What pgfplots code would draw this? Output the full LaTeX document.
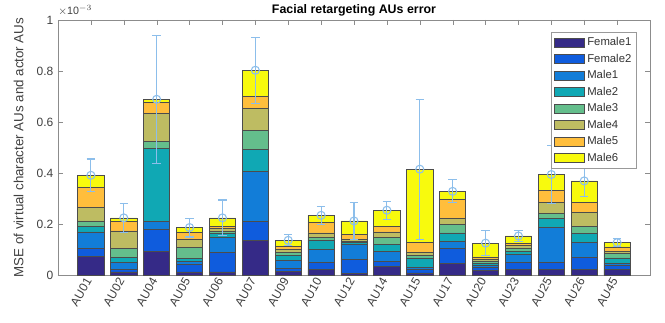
\documentclass[border=0pt]{standalone}
\usepackage{pgfplots}
\usepackage{pgfplotstable}
\pgfplotsset{compat=1.18}
\usepackage{fontspec}
\setmainfont{Liberation Sans}
\definecolor{cF1}{RGB}{53,42,135}
\definecolor{cF2}{RGB}{15,92,221}
\definecolor{cM1}{RGB}{18,125,216}
\definecolor{cM2}{RGB}{16,168,180}
\definecolor{cM3}{RGB}{100,190,140}
\definecolor{cM4}{RGB}{190,188,98}
\definecolor{cM5}{RGB}{255,190,60}
\definecolor{cM6}{RGB}{248,250,13}
\definecolor{errc}{RGB}{140,190,235}
\pgfplotstableread{
x  f1    f2    m1    m2    m3    m4    m5    m6
1  0.073 0.031 0.065 0.022 0.021 0.052 0.080 0.047
2  0.012 0.009 0.028 0.020 0.035 0.069 0.038 0.013
3  0.093 0.086 0.032 0.285 0.028 0.109 0.043 0.013
4  0.012 0.029 0.013 0.010 0.043 0.033 0.026 0.020
5  0.012 0.076 0.059 0.015 0.009 0.011 0.009 0.033
6  0.136 0.075 0.196 0.086 0.073 0.087 0.048 0.102
7  0.015 0.012 0.031 0.019 0.013 0.010 0.013 0.023
8  0.021 0.028 0.052 0.035 0.013 0.016 0.040 0.029
9  0.005 0.057 0.058 0.007 0.006 0.007 0.018 0.054
10 0.034 0.020 0.039 0.026 0.028 0.022 0.023 0.062
11 0.008 0.013 0.010 0.036 0.010 0.011 0.039 0.288
12 0.047 0.057 0.028 0.033 0.033 0.023 0.075 0.032
13 0.018 0.011 0.010 0.008 0.008 0.008 0.008 0.054
14 0.022 0.027 0.031 0.014 0.012 0.010 0.009 0.028
15 0.022 0.027 0.137 0.035 0.020 0.045 0.046 0.062
16 0.022 0.046 0.061 0.033 0.029 0.054 0.039 0.085
17 0.022 0.016 0.009 0.020 0.017 0.009 0.017 0.017
}\bardata
\pgfplotstableread{
x  m     e
1  0.391 0.064
2  0.224 0.056
3  0.689 0.250
4  0.186 0.037
5  0.224 0.070
6  0.803 0.130
7  0.136 0.021
8  0.234 0.036
9  0.212 0.072
10 0.254 0.035
11 0.415 0.275
12 0.328 0.045
13 0.125 0.050
14 0.153 0.020
15 0.394 0.115
16 0.369 0.060
17 0.127 0.015
}\errdata
\begin{document}
\begin{tikzpicture}
\useasboundingbox (0,0) rectangle (498.75pt,241.5pt);
\pgfplotsset{
  myaxis/.style={at={(43.5pt,35.25pt)}, anchor=south west, scale only axis,
    width=444pt, height=191.25pt, xmin=0, xmax=18, ymin=0, ymax=1},
  barst/.style={fill=#1, draw=black!70, line width=0.5pt},
}
\begin{axis}[myaxis, name=main, ybar stacked, bar width=0.8,
  axis line style={black!45}, tick style={black!45},
  tick align=inside, major tick length=3.75pt,
  xtick={1,...,17},
  xticklabels={AU01,AU02,AU04,AU05,AU06,AU07,AU09,AU10,AU12,AU14,AU15,AU17,AU20,AU23,AU25,AU26,AU45},
  x tick label style={rotate=60, anchor=east, font=\fontsize{9}{10}\selectfont, text=black!75},
  ytick={0,0.2,0.4,0.6,0.8,1},
  yticklabels={0,0.2,0.4,0.6,0.8,1},
  y tick label style={font=\fontsize{9}{10}\selectfont, text=black!75},
  ylabel={MSE of virtual character AUs and actor AUs},
  ylabel style={font=\fontsize{10}{11}\selectfont, text=black!75},
  ylabel shift=3pt,
  title={Facial retargeting AUs error},
  title style={font=\bfseries\fontsize{9.3}{11}\selectfont, yshift=-7pt},
]
\addplot[barst=cF1] table[x=x,y=f1]{\bardata};
\addplot[barst=cF2] table[x=x,y=f2]{\bardata};
\addplot[barst=cM1] table[x=x,y=m1]{\bardata};
\addplot[barst=cM2] table[x=x,y=m2]{\bardata};
\addplot[barst=cM3] table[x=x,y=m3]{\bardata};
\addplot[barst=cM4] table[x=x,y=m4]{\bardata};
\addplot[barst=cM5] table[x=x,y=m5]{\bardata};
\addplot[barst=cM6] table[x=x,y=m6]{\bardata};
\end{axis}
\node[anchor=south west, inner sep=0pt, text=black!75, font=\fontsize{8}{9}\selectfont] at ([yshift=3pt]main.north west) {$\times$10$^{-3}$};
\begin{axis}[myaxis, hide axis,
  legend image code/.code={\draw[#1] (0pt,-3.4pt) rectangle (22.5pt,3.4pt);},
  legend style={at={(0.978,0.953)}, anchor=north east, draw=black!40, fill=white,
    font=\fontsize{8.5}{9}\selectfont, text=black!80, row sep=0.7pt, inner sep=2pt},
  legend cell align=left,
]
\addplot[errc, line width=0.8pt, only marks, mark=o, mark size=3pt,
  error bars/.cd, y dir=both, y explicit,
  error bar style={errc, line width=0.8pt},
  error mark options={errc, line width=0.8pt, mark size=3.2pt, rotate=90}]
  table[x=x,y=m,y error=e]{\errdata};
\addlegendimage{barst=cF1}
\addlegendimage{barst=cF2}
\addlegendimage{barst=cM1}
\addlegendimage{barst=cM2}
\addlegendimage{barst=cM3}
\addlegendimage{barst=cM4}
\addlegendimage{barst=cM5}
\addlegendimage{barst=cM6}
\legend{,Female1,Female2,Male1,Male2,Male3,Male4,Male5,Male6}
\end{axis}
\end{tikzpicture}
\end{document}
